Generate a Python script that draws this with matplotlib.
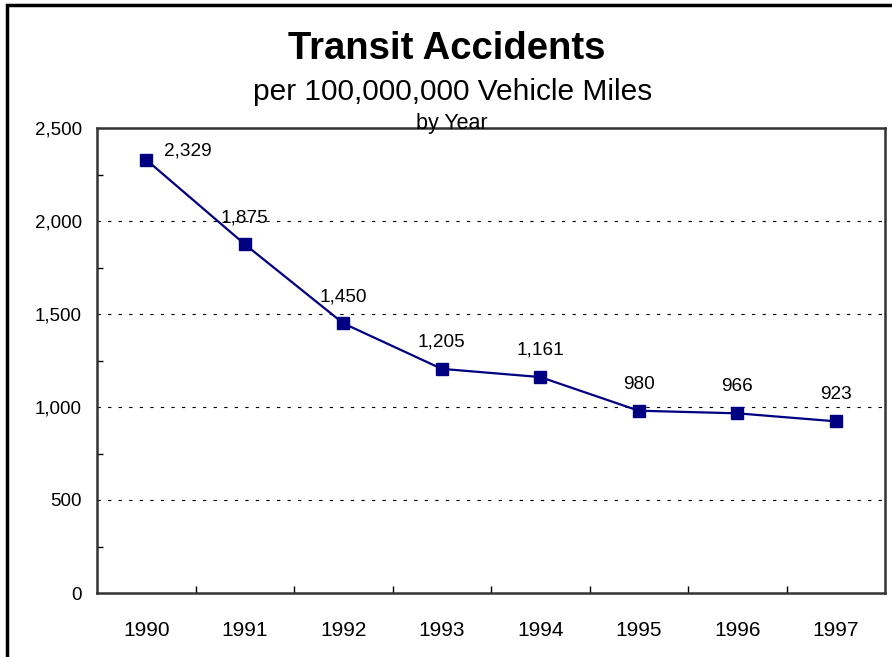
import matplotlib
matplotlib.use('Agg')
import matplotlib.pyplot as plt
from matplotlib.patches import Rectangle
from matplotlib.ticker import MultipleLocator, FuncFormatter

years = ['1990', '1991', '1992', '1993', '1994', '1995', '1996', '1997']
accidents = [2329, 1875, 1450, 1205, 1161, 980, 966, 923]

plt.rcParams['font.family'] = ['Liberation Sans', 'DejaVu Sans']

W, H = 892, 657
fig = plt.figure(figsize=(W / 100, H / 100), dpi=100)
fig.patch.set_facecolor('white')

# outer chart frame (left and top edges visible, rest cut off)
fig.patches.append(Rectangle((7 / W, -0.05), 1.1, (H - 5) / H + 0.05, transform=fig.transFigure,
                             fill=False, edgecolor='black', linewidth=2.5, zorder=0))

ax = fig.add_axes([97 / W, 1 - 593 / H, (885 - 97) / W, (593 - 128) / H])
x = list(range(len(years)))
ax.plot(x, accidents, color='#000080', linewidth=1.6, marker='s', markersize=9,
        markerfacecolor='#000080', markeredgecolor='#000080', zorder=3)

for i, v in enumerate(accidents):
    if i == 0:
        ax.annotate(f'{v:,}', (i, v), xytext=(13, 0), textcoords='offset points',
                    ha='left', va='bottom', fontsize=13.7)
    else:
        ax.annotate(f'{v:,}', (i, v), xytext=(0, 13), textcoords='offset points',
                    ha='center', va='bottom', fontsize=13.7)

ax.set_xlim(-0.5, len(years) - 0.5)
ax.set_ylim(0, 2500)
ax.yaxis.set_major_locator(MultipleLocator(500))
ax.yaxis.set_minor_locator(MultipleLocator(250))
ax.yaxis.set_major_formatter(FuncFormatter(lambda v, p: f'{int(v):,}'))
ax.tick_params(axis='y', which='major', length=0, pad=11, labelsize=13.5)
ax.tick_params(axis='y', which='minor', direction='in', length=4, width=1)

ax.set_xticks(x)
ax.set_xticklabels(years)
ax.set_xticks([k + 0.5 for k in x[:-1]], minor=True)
ax.tick_params(axis='x', which='major', length=0, pad=20, labelsize=15)
ax.tick_params(axis='x', which='minor', direction='in', length=5, width=1)

for g in [500, 1000, 1500, 2000]:
    ax.axhline(g, color='black', linewidth=0.8, linestyle=(0, (3, 6.5)), zorder=1)

for sp in ax.spines.values():
    sp.set_color('#333333')
    sp.set_linewidth(1.8)

fig.text(447 / W, 1 - 49 / H, 'Transit Accidents', ha='center', va='center',
         fontsize=27.5, fontweight='bold')
fig.text(453 / W, 1 - 92 / H, 'per 100,000,000 Vehicle Miles', ha='center', va='center',
         fontsize=21.5)
fig.text(452 / W, 1 - 124 / H, 'by Year', ha='center', va='center', fontsize=15.5, zorder=5)

fig.savefig('out.png', dpi=100, facecolor='white')
